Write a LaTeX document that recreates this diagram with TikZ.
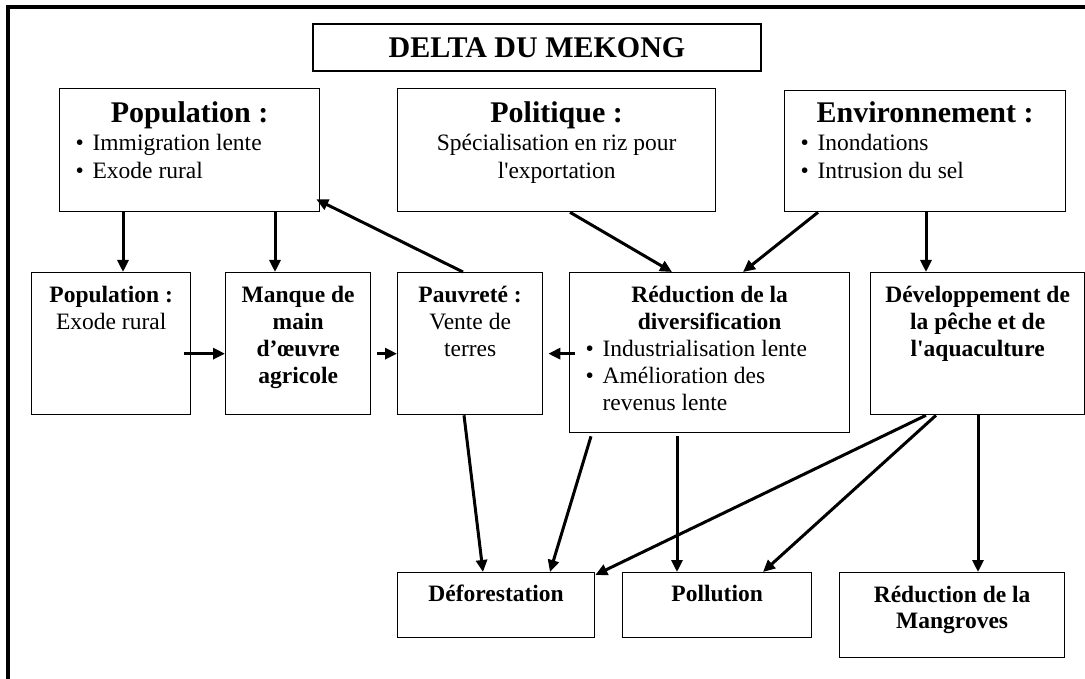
\documentclass[tikz,border=0pt]{standalone}
\usepackage{fontspec}
\setmainfont{Liberation Serif}
\usetikzlibrary{arrows.meta}

\newcommand{\cadre}[3]{\parbox[c][#2][t]{#1}{#3}}
\newcommand{\puce}[1]{\par\noindent\hspace*{16pt}\makebox[17pt][l]{\textbullet}#1}
\newcommand{\titre}{\fontsize{30}{34}\bfseries\selectfont}
\newcommand{\corps}{\fontsize{23.5}{28}\mdseries\selectfont}
\newcommand{\moyen}{\fontsize{23.5}{27}\selectfont}

\begin{document}
\begin{tikzpicture}[x=1pt, y=-1pt, >={Triangle[length=12pt,width=11pt]}, line width=3pt,
    boite/.style={draw, line width=1.3pt, inner sep=0pt, anchor=north west}]
    \useasboundingbox (0,0) rectangle (1085,679);
    \draw[line width=3.3pt] (8,7) rectangle (1100,700);
    \node[boite, anchor=center, minimum width=448pt, minimum height=47pt, font=\titre] (titre) at (537,47.5) {DELTA DU MEKONG};
    % rangee du haut
    \node[boite] (pop) at (59,88) {\cadre{260pt}{123pt}{\centering\titre\rule{0pt}{34pt}Population :\par\corps\raggedright\puce{Immigration lente}\puce{Exode rural}}};
    \node[boite] (pol) at (397,88) {\cadre{318pt}{123pt}{\centering\titre\rule{0pt}{34pt}Politique :\par\corps Spécialisation en riz pour\\l\textquotesingle exportation}};
    \node[boite] (env) at (784,90) {\cadre{281pt}{121pt}{\centering\titre\rule{0pt}{32pt}Environnement :\par\corps\raggedright\puce{Inondations}\puce{Intrusion du sel}}};
    % rangee du milieu
    \node[boite] (exode) at (31,272) {\cadre{159pt}{142pt}{\centering\moyen\rule{0pt}{30pt}\textbf{Population :}\\Exode rural}};
    \node[boite] (manque) at (225,272) {\cadre{145pt}{142pt}{\centering\moyen\bfseries\rule{0pt}{30pt}Manque de\\main\\d’œuvre\\agricole}};
    \node[boite] (pauv) at (397,272) {\cadre{145pt}{142pt}{\centering\moyen\rule{0pt}{30pt}\textbf{Pauvreté :}\\Vente de\\terres}};
    \node[boite] (reduc) at (569,272) {\cadre{280pt}{160pt}{\centering\moyen\bfseries\rule{0pt}{30pt}Réduction de la\\diversification\par\mdseries\raggedright\puce{Industrialisation lente}\puce{\parbox[t]{230pt}{Amélioration des\\revenus lente}}}};
    \node[boite] (dev) at (870,272) {\cadre{214pt}{142pt}{\centering\moyen\bfseries\rule{0pt}{30pt}Développement de\\la pêche et de\\l\textquotesingle aquaculture}};
    % rangee du bas
    \node[boite] (defo) at (397,572) {\cadre{197pt}{65pt}{\centering\moyen\bfseries\rule{0pt}{29pt}Déforestation}};
    \node[boite] (poll) at (622,572) {\cadre{189pt}{65pt}{\centering\moyen\bfseries\rule{0pt}{29pt}Pollution}};
    \node[boite] (mang) at (839,572) {\cadre{225pt}{85pt}{\centering\fontsize{23.5}{26}\bfseries\selectfont\rule{0pt}{30pt}Réduction de la\\Mangroves}};
    \draw[->] ([xshift=64pt]pop.south west) -- ([xshift=92pt]exode.north west);
    \draw[->] ([xshift=216pt]pop.south west) -- ([xshift=50pt]manque.north west);
    \draw[->] ([xshift=66pt]pauv.north west) -- ([shift={(-4pt,13pt)}]pop.south east);
    \draw[->] ([xshift=173pt]pol.south west) -- ([xshift=103pt]reduc.north west);
    \draw[->] ([xshift=34pt]env.south west) -- ([xshift=174pt]reduc.north west);
    \draw[->] ([xshift=142pt]env.south west) -- ([xshift=56pt]dev.north west);
    \draw[->] ([shift={(-7pt,-10pt)}]exode.east) -- ([yshift=-10pt]manque.west);
    \draw[->] ([shift={(6pt,-10pt)}]manque.east) -- ([yshift=-10pt]pauv.west);
    \draw[->] ([shift={(6pt,-1pt)}]reduc.west) -- ([shift={(5pt,-10pt)}]pauv.east);
    \draw[->] ([xshift=67pt]pauv.south west) -- ([xshift=86pt]defo.north west);
    \draw[->] ([shift={(22pt,-3pt)}]reduc.south west) -- ([xshift=153pt]defo.north west);
    \draw[->] ([shift={(108pt,-3pt)}]reduc.south west) -- ([xshift=55pt]poll.north west);
    \draw[->] ([xshift=56pt]dev.south west) -- ([yshift=-3pt]defo.north east);
    \draw[->] ([xshift=66pt]dev.south west) -- ([xshift=141pt]poll.north west);
    \draw[->] ([xshift=108pt]dev.south west) -- ([xshift=139pt]mang.north west);
\end{tikzpicture}
\end{document}
